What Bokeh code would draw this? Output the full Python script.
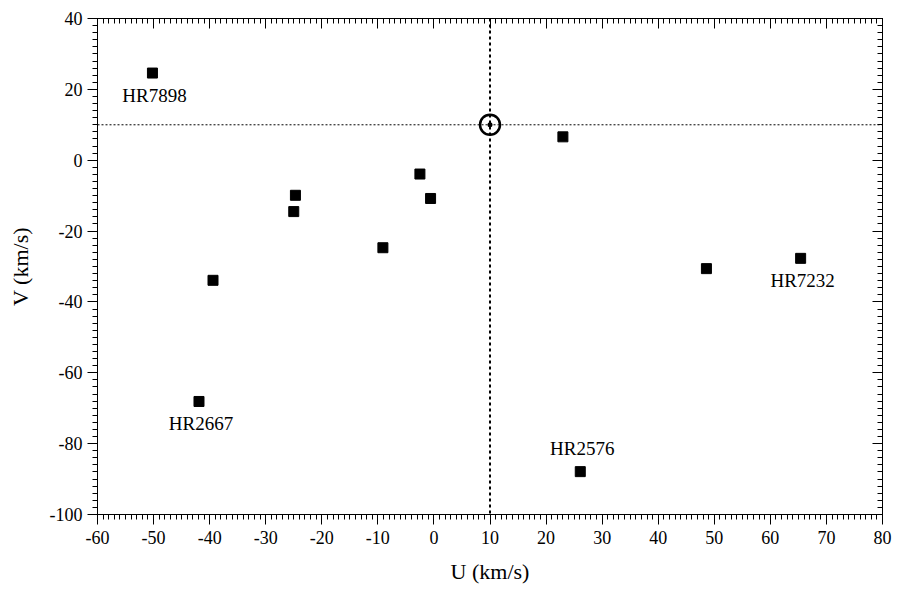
from bokeh.plotting import figure
from bokeh.models import LinearAxis, FixedTicker, Span, ColumnDataSource, Range1d
from bokeh.embed import file_html
from bokeh.resources import INLINE
from bokeh.core.properties import value

# ---- data ----
u_vals = [-50.2, -41.9, -39.4, -24.7, -25.0, -9.1, -2.5, -0.6, 23.0, 26.1, 48.6, 65.4]
v_vals = [24.6, -68.1, -33.9, -9.9, -14.5, -24.7, -3.9, -10.8, 6.6, -87.9, -30.6, -27.7]

label_names = ["HR7898", "HR2667", "HR7232", "HR2576"]
label_u = [-50.2, -41.9, 65.4, 26.1]
label_v = [24.6, -68.1, -27.7, -87.9]
label_side = ["below", "below", "below", "above"]

sun_u = [10]
sun_v = [10]

x_ticks = [-60, -50, -40, -30, -20, -10, 0, 10, 20, 30, 40, 50, 60, 70, 80]
x_tick_labels = ["-60", "-50", "-40", "-30", "-20", "-10", "0", "10", "20", "30", "40", "50", "60", "70", "80"]
y_ticks = [-100, -80, -60, -40, -20, 0, 20, 40]
y_tick_labels = ["-100", "-80", "-60", "-40", "-20", "0", "20", "40"]
x_minor = list(range(-60, 81, 1))
y_minor = list(range(-100, 41, 2))

FONT = "Liberation Serif"

p = figure(width=899, height=593,
           x_range=Range1d(-60, 80), y_range=Range1d(-100, 40),
           output_backend="svg", toolbar_location=None,
           min_border_left=97, min_border_right=17,
           min_border_top=18, min_border_bottom=79)
p.xgrid.visible = False
p.ygrid.visible = False
p.outline_line_color = "black"
p.outline_line_width = 1
p.background_fill_color = "white"
p.border_fill_color = "white"

xt = FixedTicker(ticks=x_ticks, minor_ticks=x_minor)
yt = FixedTicker(ticks=y_ticks, minor_ticks=y_minor)

def style_main(ax, ticker, labels, ticks):
    ax.ticker = ticker
    ax.major_label_overrides = {t: s for t, s in zip(ticks, labels)}
    ax.axis_line_color = "black"
    ax.major_tick_line_color = "black"
    ax.minor_tick_line_color = "black"
    ax.major_tick_in = 0
    ax.major_tick_out = 10
    ax.minor_tick_in = 0
    ax.minor_tick_out = 5
    ax.major_label_text_font = FONT
    ax.major_label_text_font_size = "18px"
    ax.major_label_text_color = "black"
    ax.axis_label_text_font = FONT
    ax.axis_label_text_font_size = "22px"
    ax.axis_label_text_font_style = "normal"
    ax.axis_label_text_color = "black"

xa = p.xaxis[0]
ya = p.yaxis[0]
style_main(xa, xt, x_tick_labels, x_ticks)
style_main(ya, yt, y_tick_labels, y_ticks)
xa.axis_label = "U (km/s)"
ya.axis_label = "V (km/s)"
xa.major_label_standoff = 6
ya.major_label_standoff = 5
xa.axis_label_standoff = 12
ya.axis_label_standoff = 14

def mirror(ticker, ticks):
    ax = LinearAxis(ticker=ticker)
    ax.major_label_overrides = {t: "" for t in ticks}
    ax.major_label_standoff = 0
    ax.major_tick_in = 10
    ax.major_tick_out = 0
    ax.minor_tick_in = 5
    ax.minor_tick_out = 0
    ax.axis_line_color = "black"
    ax.major_tick_line_color = "black"
    ax.minor_tick_line_color = "black"
    return ax

p.add_layout(mirror(FixedTicker(ticks=x_ticks, minor_ticks=x_minor), x_ticks), "above")
p.add_layout(mirror(FixedTicker(ticks=y_ticks, minor_ticks=y_minor), y_ticks), "right")

# reference lines through the Sun's position
p.add_layout(Span(location=sun_u[0], dimension="height", line_color="black",
                  line_width=2, line_dash="3 3"))
p.add_layout(Span(location=sun_v[0], dimension="width", line_color="black",
                  line_width=1, line_dash="2 2"))

# stars
p.scatter(u_vals, v_vals, marker="square", size=10, color="black")

# sun symbol
p.scatter(sun_u, sun_v, marker="circle_dot", size=20, fill_color=None,
          line_color="black", line_width=2.5)

# labels
below = ColumnDataSource(dict(
    x=[x for x, s in zip(label_u, label_side) if s == "below"],
    y=[y for y, s in zip(label_v, label_side) if s == "below"],
    t=[n for n, s in zip(label_names, label_side) if s == "below"]))
above = ColumnDataSource(dict(
    x=[x for x, s in zip(label_u, label_side) if s == "above"],
    y=[y for y, s in zip(label_v, label_side) if s == "above"],
    t=[n for n, s in zip(label_names, label_side) if s == "above"]))

for src, yoff in ((below, 22), (above, -23)):
    p.text(x="x", y="y", text="t", source=src, x_offset=2, y_offset=yoff,
           text_font=value(FONT), text_font_size=value("19px"),
           text_align="center", text_baseline="middle", text_color="black")

open("out.html", "w").write(file_html(p, INLINE))
